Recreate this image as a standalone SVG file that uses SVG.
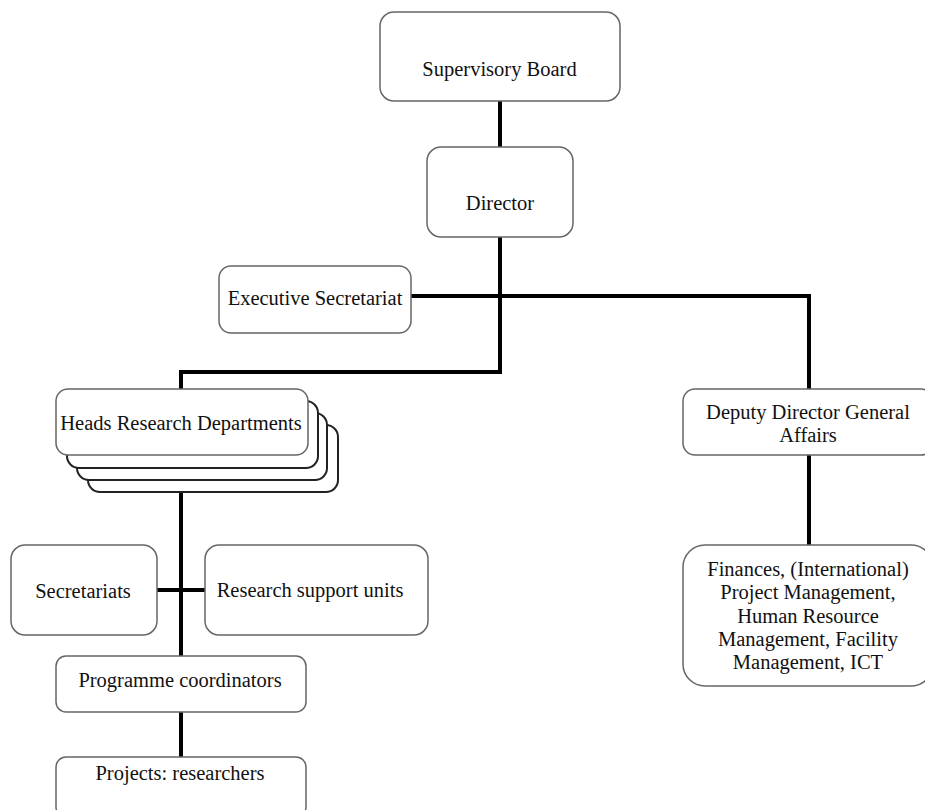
<svg xmlns="http://www.w3.org/2000/svg" width="925" height="810" viewBox="0 0 925 810">
<style>
.box{fill:#fff;stroke:#666;stroke-width:1.5}
.back{fill:#fff;stroke:#222;stroke-width:2}
.conn{fill:none;stroke:#000;stroke-width:4}
text{font-family:"Liberation Serif","Times New Roman",serif;font-size:20.5px;fill:#111;text-anchor:middle}
</style>
<rect width="925" height="810" fill="#fff"/>
<g id="connectors">
<path class="conn" d="M500,101V147"/>
<path class="conn" d="M500,237V372H181V390"/>
<path class="conn" d="M411,296H809V390"/>
<path class="conn" d="M181,455V656"/>
<path class="conn" d="M157,590H206"/>
<path class="conn" d="M181,712V757"/>
<path class="conn" d="M809,455V545"/>
</g>
<g id="supervisory-board">
<rect class="box" x="380" y="12" width="240" height="89" rx="14"/>
<text x="499.5" y="76">Supervisory Board</text>
</g>
<g id="director">
<rect class="box" x="427" y="147" width="146" height="90" rx="14"/>
<text x="500" y="210">Director</text>
</g>
<g id="executive-secretariat">
<rect class="box" x="219" y="266" width="192" height="67" rx="12"/>
<text x="315" y="305">Executive Secretariat</text>
</g>
<g id="heads-research-departments">
<rect class="back" x="88" y="425" width="250" height="67" rx="12"/>
<rect class="back" x="77" y="413" width="250" height="67" rx="12"/>
<rect class="back" x="67" y="401" width="251" height="67" rx="12"/>
<rect class="box" x="56" y="389" width="252" height="66" rx="12"/>
<text x="181" y="430">Heads Research Departments</text>
</g>
<g id="deputy-director">
<rect class="box" x="683" y="389" width="250" height="66" rx="12"/>
<text x="808" y="419">Deputy Director General</text>
<text x="808" y="442">Affairs</text>
</g>
<g id="general-affairs-units">
<rect class="box" x="683" y="545" width="250" height="141" rx="22"/>
<text x="808" y="576">Finances, (International)</text>
<text x="808" y="599.3">Project Management,</text>
<text x="808" y="622.6">Human Resource</text>
<text x="808" y="645.9">Management, Facility</text>
<text x="808" y="669.2">Management, ICT</text>
</g>
<g id="secretariats">
<rect class="box" x="11" y="545" width="146" height="90" rx="14"/>
<text x="83" y="598">Secretariats</text>
</g>
<g id="research-support-units">
<rect class="box" x="205" y="545" width="223" height="90" rx="14"/>
<text x="310" y="597">Research support units</text>
</g>
<g id="programme-coordinators">
<rect class="box" x="56" y="656" width="250" height="56" rx="10"/>
<text x="180" y="687">Programme coordinators</text>
</g>
<g id="projects-researchers">
<rect class="box" x="56" y="757" width="250" height="60" rx="10"/>
<text x="180" y="780">Projects: researchers</text>
</g>
</svg>
